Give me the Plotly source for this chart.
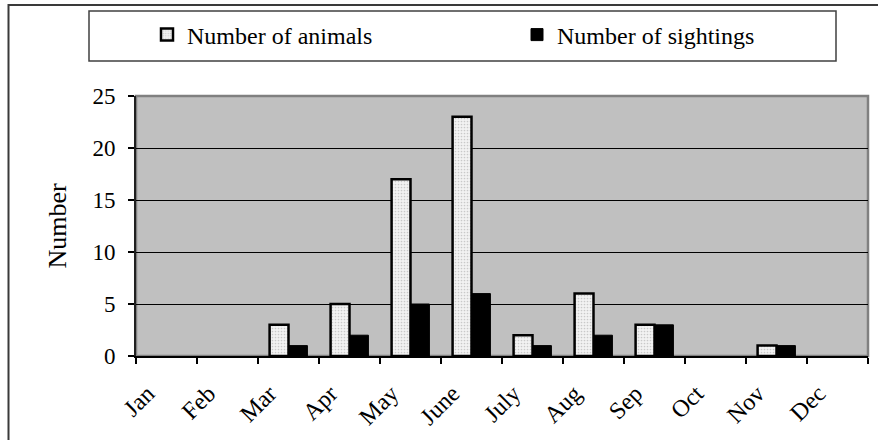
import plotly.graph_objects as go

# Monthly counts
months = ["Jan", "Feb", "Mar", "Apr", "May", "June", "July", "Aug", "Sep", "Oct", "Nov", "Dec"]
animals = [0, 0, 3, 5, 17, 23, 2, 6, 3, 0, 1, 0]
sightings = [0, 0, 1, 2, 5, 6, 1, 2, 3, 0, 1, 0]
y_ticks = [0, 5, 10, 15, 20, 25]

W, H = 878, 440
L, R, T, B = 136, 10, 96, 84          # plot-area margins in px
PW, PH = W - L - R, H - T - B

def px_x(x):
    return (x - L) / PW

def px_y(y):
    return (H - B - y) / PH

SERIF = "Liberation Serif"

def drop_zero(values):
    # empty months get no bar (and no outline on the baseline)
    return [v if v != 0 else None for v in values]

fig = go.Figure()
fig.add_trace(go.Bar(
    x=months, y=drop_zero(animals), name="Number of animals", legend="legend",
    marker=dict(color="#eeeeee", line=dict(color="black", width=2.5),
                pattern=dict(shape=".", fgcolor="#a0a0a0", bgcolor="#f2f2f2",
                             size=3, solidity=0.25)),
))
fig.add_trace(go.Bar(
    x=months, y=drop_zero(sightings), name="Number of sightings", legend="legend2",
    marker=dict(color="black", line=dict(color="black", width=1)),
))

shapes = [
    # outer chart frame
    dict(type="rect", xref="paper", yref="paper",
         x0=px_x(8.5), x1=px_x(W + 20), y0=px_y(H + 20), y1=px_y(5),
         line=dict(color="#3a3a3a", width=2), layer="below"),
    # legend frame
    dict(type="rect", xref="paper", yref="paper",
         x0=px_x(89), x1=px_x(836), y0=px_y(61), y1=px_y(11),
         line=dict(color="#404040", width=1.5), layer="below"),
    # plot-area border (grey top/right)
    dict(type="rect", xref="paper", yref="paper",
         x0=0, x1=1, y0=0, y1=1,
         line=dict(color="#808080", width=2.5), layer="below"),
]

legend_common = dict(orientation="h", xanchor="left", yanchor="middle",
                     y=px_y(35), font=dict(family=SERIF, size=24, color="black"),
                     bgcolor="rgba(0,0,0,0)", borderwidth=0)

fig.update_layout(
    width=W, height=H,
    margin=dict(l=L, r=R, t=T, b=B, autoexpand=False),
    paper_bgcolor="white",
    plot_bgcolor="#c0c0c0",
    font=dict(family=SERIF, color="black", size=22),
    barmode="group", bargap=0.38, bargroupgap=0,
    showlegend=True,
    legend=dict(x=px_x(147), **legend_common),
    legend2=dict(x=px_x(517), **legend_common),
    shapes=shapes,
)

fig.update_xaxes(
    type="category", categoryorder="array", categoryarray=months,
    tickson="boundaries", ticks="outside", ticklen=6, tickwidth=1.5, tickcolor="black",
    showline=True, linecolor="black", linewidth=2,
    tickangle=-45, tickfont=dict(family=SERIF, size=24),
    ticklabelshift=-19, ticklabelstandoff=12,
    showgrid=False, zeroline=False,
)
fig.update_yaxes(
    range=[0, 25], tickvals=y_ticks, ticks="outside", ticklen=6, tickwidth=1.5,
    tickcolor="black", showline=True, linecolor="#202020", linewidth=2,
    showgrid=True, gridcolor="black", gridwidth=1, zeroline=False,
    tickfont=dict(family=SERIF, size=23), ticklabelstandoff=8,
    title=dict(text="Number", font=dict(family=SERIF, size=26), standoff=18),
)

fig.write_html("out.html")
